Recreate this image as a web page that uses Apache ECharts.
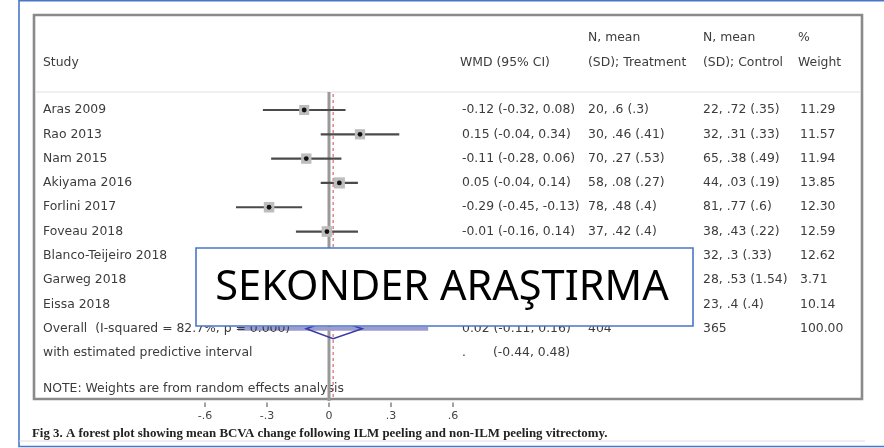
<!DOCTYPE html>
<html><head><meta charset="utf-8">
<script src="https://cdn.jsdelivr.net/npm/echarts@6/dist/echarts.min.js"></script>
<style>html,body{margin:0;padding:0;background:#fff}#c{width:884px;height:448px}</style>
</head><body><div id="c"></div>
<script>
// ---- data ----
const studies = ['Aras 2009','Rao 2013','Nam 2015','Akiyama 2016','Forlini 2017','Foveau 2018','Blanco-Teijeiro 2018','Garweg 2018','Eissa 2018'];
const wmd    = [-0.12, 0.15, -0.11, 0.05, -0.29, -0.01, null, null, null];
const ciLow  = [-0.32, -0.04, -0.28, -0.04, -0.45, -0.16, null, null, null];
const ciHigh = [0.08, 0.34, 0.06, 0.14, -0.13, 0.14, null, null, null];
const treatment = ['20, .6 (.3)','30, .46 (.41)','70, .27 (.53)','58, .08 (.27)','78, .48 (.4)','37, .42 (.4)','','',''];
const control   = ['22, .72 (.35)','32, .31 (.33)','65, .38 (.49)','44, .03 (.19)','81, .77 (.6)','38, .43 (.22)','32, .3 (.33)','28, .53 (1.54)','23, .4 (.4)'];
const weight = [11.29, 11.57, 11.94, 13.85, 12.30, 12.59, 12.62, 3.71, 10.14];
const overallLabel = 'Overall  (I-squared = 82.7%, p = 0.000)';
const overallEst = 0.02, overallLow = -0.11, overallHigh = 0.16;
const overallNT = 404, overallNC = 365, overallWeight = 100.00;
const predictiveLabel = 'with estimated predictive interval';
const predLow = -0.44, predHigh = 0.48;
const tickValues = [-0.6, -0.3, 0, 0.3, 0.6];
const tickLabels = ['-.6', '-.3', '0', '.3', '.6'];
const headers = {study:'Study', wmd:'WMD (95% CI)', treat:['N, mean','(SD); Treatment'], control:['N, mean','(SD); Control'], weight:['%','Weight']};
const noteText = 'NOTE: Weights are from random effects analysis';
const caption = 'Fig 3. A forest plot showing mean BCVA change following ILM peeling and non-ILM peeling vitrectomy.';
const overlayText = 'SEKONDER ARAŞTIRMA';

// ---- build ----
const chart = echarts.init(document.getElementById('c'));
const TXT = '#3c3c3c';
const FONT = '12.4px "DejaVu Sans"';
const col = {study:43, wmd:462, treat:588, control:703, weight:800};
const fmt = (e,l,h) => e.toFixed(2) + ' (' + l.toFixed(2) + ', ' + h.toFixed(2) + ')';
const rows = studies.map((s,i) => ({
  name: s,
  wmd: wmd[i] == null ? '' : fmt(wmd[i], ciLow[i], ciHigh[i]),
  treat: treatment[i], control: control[i], weight: weight[i].toFixed(2)
}));
rows.push({name: overallLabel, wmd: fmt(overallEst, overallLow, overallHigh), treat: String(overallNT), control: String(overallNC), weight: overallWeight.toFixed(2)});
rows.push({name: predictiveLabel, wmd: '.', extra: '(' + predLow.toFixed(2) + ', ' + predHigh.toFixed(2) + ')', treat:'', control:'', weight:''});
const overallRow = studies.length;
const yMin = -0.74, yMax = 11.93;

const txt = (x, y, t, extra) => ({type:'text', style:Object.assign({x, y, text:t, fill:TXT, font:FONT, align:'left', verticalAlign:'middle', textVerticalAlign:'middle'}, extra||{})});

const forestData = [];
studies.forEach((s,i) => { if (wmd[i] != null) forestData.push([i, ciLow[i], ciHigh[i], wmd[i], weight[i]]); });

const option = {
  animation: false,
  grid: {left: 205, right: 431, top: 92, bottom: 48},
  xAxis: {
    type: 'value', min: tickValues[0], max: tickValues[tickValues.length-1], interval: 0.3,
    axisLine: {show: false, onZero: false},
    axisTick: {show: false},
    axisLabel: {color: '#444', fontFamily: 'DejaVu Sans', fontSize: 11, margin: 11,
      formatter: v => { const k = tickValues.findIndex(t => Math.abs(t - v) < 1e-6); return k >= 0 ? tickLabels[k] : ''; }},
    splitLine: {show: false}
  },
  yAxis: {type: 'value', inverse: true, min: yMin, max: yMax, show: false},
  series: [
    { // reference lines
      type: 'custom', clip: false, z: 1,
      data: [[0, 0], [overallEst, 1]],
      renderItem: (p, api) => {
        const x = api.value(0), kind = api.value(1);
        const a = api.coord([x, yMin]), b = api.coord([x, yMax]);
        if (kind === 0) return {type:'line', shape:{x1:a[0], y1:a[1], x2:b[0], y2:b[1]+1}, style:{stroke:'#999', lineWidth:3}};
        return {type:'line', shape:{x1:a[0], y1:a[1]+2, x2:b[0], y2:b[1]}, style:{stroke:'#d24a4a', lineWidth:1, lineDash:[3,3]}};
      }
    },
    { // axis ticks below the box
      type: 'custom', clip: false, z: 5,
      data: tickValues.map(v => [v]),
      renderItem: (p, api) => {
        const b = api.coord([api.value(0), yMax]);
        return {type:'line', shape:{x1:b[0], y1:b[1]+2.5, x2:b[0], y2:b[1]+7}, style:{stroke:'#444', lineWidth:1}};
      }
    },
    { // study markers
      type: 'custom', clip: false, z: 3,
      data: forestData,
      renderItem: (p, api) => {
        const i = api.value(0);
        const lo = api.coord([api.value(1), i]), hi = api.coord([api.value(2), i]), c = api.coord([api.value(3), i]);
        const s = 3.0 * Math.sqrt(api.value(4));
        return {type:'group', children:[
          {type:'line', shape:{x1:lo[0], y1:lo[1], x2:hi[0], y2:hi[1]}, style:{stroke:'#4a4a4a', lineWidth:2.2}},
          {type:'rect', shape:{x:c[0]-s/2, y:c[1]-s/2, width:s, height:s}, style:{fill:'#bdbdbd'}},
          {type:'circle', shape:{cx:c[0], cy:c[1], r:2.4}, style:{fill:'#111'}}
        ]};
      }
    },
    { // overall diamond + predictive interval
      type: 'custom', clip: false, z: 3,
      data: [[overallRow, overallLow, overallEst, overallHigh, predLow, predHigh]],
      renderItem: (p, api) => {
        const r = api.value(0);
        const pl = api.coord([api.value(4), r]), ph = api.coord([api.value(5), r]);
        const l = api.coord([api.value(1), r]), e = api.coord([api.value(2), r]), h = api.coord([api.value(3), r]);
        const hh = 10;
        return {type:'group', children:[
          {type:'line', shape:{x1:pl[0], y1:pl[1], x2:ph[0], y2:ph[1]}, style:{stroke:'#9c9cd0', lineWidth:4}},
          {type:'polygon', shape:{points:[[l[0], l[1]], [e[0], e[1]-hh], [h[0], h[1]], [e[0], e[1]+hh]]}, style:{fill:'none', stroke:'#3a3aa8', lineWidth:1.6}}
        ]};
      }
    },
    { // table text
      type: 'custom', clip: false, z: 4,
      data: rows.map((r,i) => [0, i]),
      renderItem: (p, api) => {
        const i = api.value(1);
        const y = api.coord([0, i])[1];
        const r = rows[i];
        const ch = [txt(col.study, y, r.name), txt(col.wmd, y, r.wmd), txt(col.treat, y, r.treat), txt(col.control, y, r.control), txt(col.weight, y, r.weight)];
        if (r.extra) ch.push(txt(col.wmd + 31, y, r.extra));
        return {type:'group', children: ch};
      }
    }
  ],
  graphic: [
    {type:'rect', z:0, shape:{x:19, y:0.8, width:880, height:445.7}, style:{fill:'none', stroke:'#4a76c8', lineWidth:1.6}},
    {type:'rect', z:0, shape:{x:34, y:15, width:828, height:384}, style:{fill:'none', stroke:'#8a8a8a', lineWidth:2.6}},
    {type:'line', z:0, shape:{x1:35, y1:92, x2:861, y2:92}, style:{stroke:'#e2e2e2', lineWidth:1.2}},
    {type:'line', z:0, shape:{x1:19, y1:441, x2:865, y2:441}, style:{stroke:'#dedede', lineWidth:1.2}},
    txt(col.study, 63, headers.study),
    txt(col.wmd - 2, 63, headers.wmd),
    txt(col.treat, 38, headers.treat[0]), txt(col.treat, 63, headers.treat[1]),
    txt(col.control, 38, headers.control[0]), txt(col.control, 63, headers.control[1]),
    txt(col.weight - 2, 38, headers.weight[0]), txt(col.weight - 2, 63, headers.weight[1]),
    txt(col.study, 389, noteText),
    txt(32, 434, caption, {font:'bold 12.9px "Liberation Serif"', fill:'#222'}),
    {type:'group', z:100, children:[
      {type:'rect', z:100, shape:{x:196, y:248, width:497, height:78}, style:{fill:'#fff', stroke:'#4a76c8', lineWidth:1.6}},
      {type:'text', z:101, style:{x:442, y:288, text:overlayText, fill:'#000', font:'41.5px "Noto Sans"', align:'center', verticalAlign:'middle', textAlign:'center', textVerticalAlign:'middle'}}
    ]}
  ]
};
chart.setOption(option);
</script></body></html>
